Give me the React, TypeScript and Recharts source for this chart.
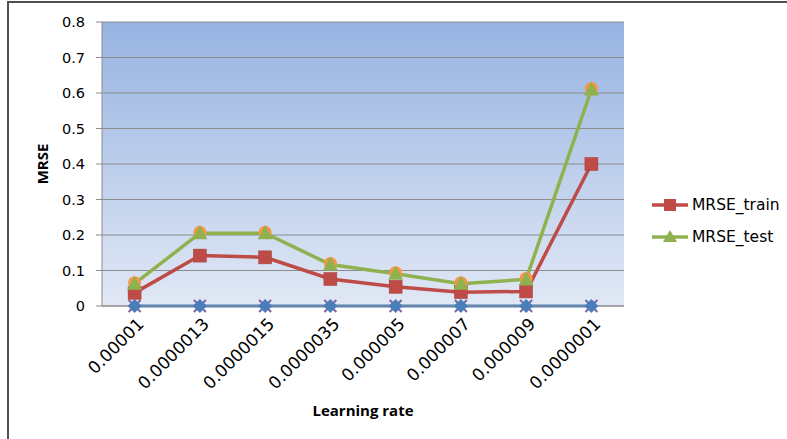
import React from 'react';
import {
  CartesianGrid,
  Legend,
  Line,
  LineChart,
  XAxis,
  YAxis,
} from 'recharts';

// Learning rates tried, in the order they were run.
const learningRates = [
  '0.00001',
  '0.0000013',
  '0.0000015',
  '0.0000035',
  '0.000005',
  '0.000007',
  '0.000009',
  '0.0000001',
];
const mrseTrain = [0.037, 0.142, 0.137, 0.076, 0.054, 0.039, 0.041, 0.4];
const mrseTest = [0.063, 0.205, 0.205, 0.117, 0.091, 0.063, 0.075, 0.61];
// extra series left over in the sheet: a copy of the test error and two zero rows
const mrseTestMarks = [0.063, 0.205, 0.205, 0.117, 0.091, 0.063, 0.075, 0.61];
const zeroRow = [0, 0, 0, 0, 0, 0, 0, 0];
const zeroRowX = [0, 0, 0, 0, 0, 0, 0, 0];
const yTicks = [0, 0.1, 0.2, 0.3, 0.4, 0.5, 0.6, 0.7, 0.8];

const RED = '#be4b48';
const GREEN = '#8fb24f';
const BLUE = '#4a7ebb';
const ORANGE = '#f79646';
const PURPLE = '#8064a2';

const data = learningRates.map((rate, i) => ({
  rate,
  train: mrseTrain[i],
  test: mrseTest[i],
  testMarks: mrseTestMarks[i],
  zero: zeroRow[i],
  zeroX: zeroRowX[i],
}));

type DotProps = { cx?: number; cy?: number; index?: number };

const squareDot = ({ cx = 0, cy = 0, index }: DotProps) => (
  <rect key={`sq-${index}`} x={cx - 6.5} y={cy - 6.5} width={13} height={13} fill={RED} stroke="#a8403d" strokeWidth={0.5} />
);

const triangleDot = ({ cx = 0, cy = 0, index }: DotProps) => (
  <path key={`tr-${index}`} d={`M${cx},${cy - 8} L${cx + 7.5},${cy + 6} L${cx - 7.5},${cy + 6} Z`} fill={GREEN} />
);

const circleDot = ({ cx = 0, cy = 0, index }: DotProps) => (
  <circle key={`ci-${index}`} cx={cx} cy={cy - 1} r={6.5} fill={ORANGE} />
);

const diamondDot = ({ cx = 0, cy = 0, index }: DotProps) => (
  <path key={`di-${index}`} d={`M${cx},${cy - 7} L${cx + 7},${cy} L${cx},${cy + 7} L${cx - 7},${cy} Z`} fill={BLUE} />
);

const crossDot = ({ cx = 0, cy = 0, index }: DotProps) => (
  <path key={`x-${index}`} d={`M${cx - 6},${cy - 6} L${cx + 6},${cy + 6} M${cx + 6},${cy - 6} L${cx - 6},${cy + 6}`} stroke={PURPLE} strokeWidth={2} />
);

const XTick = ({ x = 0, y = 0, payload }: { x?: number; y?: number; payload?: { value: string } }) => (
  <g transform={`translate(${x + 6},${y + 7})`}>
    <text
      transform="rotate(-45)"
      textAnchor="end"
      dy="0.35em"
      fontFamily="DejaVu Sans"
      fontSize={17}
      fill="#000"
    >
      {payload?.value}
    </text>
  </g>
);

const legendItems = [
  { label: 'MRSE_train', color: RED, shape: 'square' },
  { label: 'MRSE_test', color: GREEN, shape: 'triangle' },
];

const LegendBox = () => (
  <div>
    {legendItems.map((item) => (
      <div key={item.label} style={{ display: 'flex', alignItems: 'center', height: 32 }}>
        <svg width={40} height={16}>
          <line x1={2} y1={8} x2={38} y2={8} stroke={item.color} strokeWidth={3.5} />
          {item.shape === 'square' ? (
            <rect x={14} y={2} width={12} height={12} fill={item.color} />
          ) : (
            <path d="M20,1 L27,13 L13,13 Z" fill={item.color} />
          )}
        </svg>
        <span style={{ fontFamily: 'DejaVu Sans', fontSize: 15.5, color: '#000', marginLeft: 2 }}>
          {item.label}
        </span>
      </div>
    ))}
  </div>
);

export default function App() {
  return (
    <div style={{ position: 'relative', width: 787, height: 439, background: '#fff' }}>
      <style>{'body{margin:0}'}</style>
      <div
        style={{
          position: 'absolute',
          left: 7,
          top: 1,
          right: 0,
          bottom: 0,
          borderLeft: '2px solid #505050',
          borderTop: '2px solid #505050',
        }}
      />
      <LineChart
        width={787}
        height={439}
        data={data}
        margin={{ top: 22, right: 163, bottom: 0, left: 0 }}
        style={{ position: 'absolute', left: 0, top: 0 }}
      >
        <defs>
          <linearGradient id="plotFill" x1="0" y1="0" x2="0" y2="1">
            <stop offset="0%" stopColor="#96b3e1" />
            <stop offset="100%" stopColor="#e1e8f5" />
          </linearGradient>
        </defs>
        <CartesianGrid
          vertical={false}
          fill="url(#plotFill)"
          stroke="#8c8c8c"
          strokeWidth={1}
        />
        <XAxis
          dataKey="rate"
          height={133}
          padding={{ left: 32.6, right: 32.6 }}
          tickLine={false}
          axisLine={{ stroke: '#8c8c8c' }}
          tick={<XTick />}
          interval={0}
          label={{
            value: 'Learning rate',
            position: 'insideBottom',
            offset: 23,
            style: { fontFamily: 'Open Sans', fontWeight: 700, fontSize: 15, fill: '#000' },
          }}
        />
        <YAxis
          width={102}
          domain={[0, 0.8]}
          ticks={yTicks}
          tickFormatter={(v: number) => String(v)}
          tickSize={6}
          tickMargin={11}
          tickLine={{ stroke: '#8c8c8c' }}
          axisLine={{ stroke: '#8c8c8c' }}
          tick={{ fontFamily: 'DejaVu Sans', fontSize: 14.5, fill: '#000' }}
          label={{
            value: 'MRSE',
            angle: -90,
            position: 'insideLeft',
            offset: 43,
            style: { fontFamily: 'Open Sans', fontWeight: 700, fontSize: 15, fill: '#000', textAnchor: 'middle' },
          }}
        />
        <Legend
          layout="vertical"
          align="center"
          verticalAlign="middle"
          content={<LegendBox />}
          wrapperStyle={{ left: 650, top: 189, width: 137, height: 64 }}
        />
        <Line
          dataKey="zeroX"
          stroke="none"
          dot={crossDot}
          activeDot={false}
          legendType="none"
          isAnimationActive={false}
        />
        <Line
          dataKey="zero"
          stroke={BLUE}
          strokeWidth={3}
          dot={diamondDot}
          activeDot={false}
          legendType="none"
          isAnimationActive={false}
        />
        <Line
          dataKey="train"
          name="MRSE_train"
          stroke={RED}
          strokeWidth={3.5}
          dot={squareDot}
          activeDot={false}
          isAnimationActive={false}
        />
        <Line
          dataKey="testMarks"
          stroke="none"
          dot={circleDot}
          activeDot={false}
          legendType="none"
          isAnimationActive={false}
        />
        <Line
          dataKey="test"
          name="MRSE_test"
          stroke={GREEN}
          strokeWidth={3.5}
          dot={triangleDot}
          activeDot={false}
          isAnimationActive={false}
        />
      </LineChart>
    </div>
  );
}
